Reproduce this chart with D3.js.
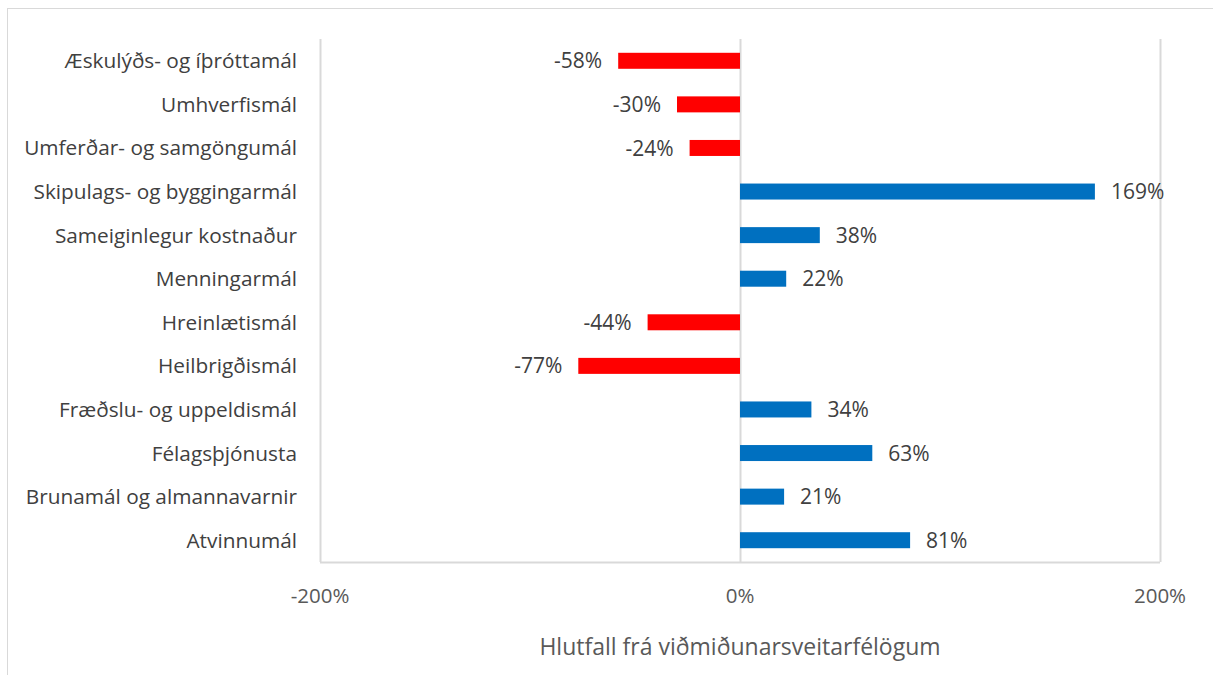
<!DOCTYPE html>
<html>
<head>
<meta charset="utf-8">
<script src="https://cdn.jsdelivr.net/npm/d3@7"></script>
<style>
  body { margin: 0; background: #fff; }
  text { font-family: "Open Sans", "Noto Sans", sans-serif; fill: #404040; }
</style>
</head>
<body>
<div id="chart"></div>
<script>
// data, top to bottom
var categories = [
  "Æskulýðs- og íþróttamál",
  "Umhverfismál",
  "Umferðar- og samgöngumál",
  "Skipulags- og byggingarmál",
  "Sameiginlegur kostnaður",
  "Menningarmál",
  "Hreinlætismál",
  "Heilbrigðismál",
  "Fræðslu- og uppeldismál",
  "Félagsþjónusta",
  "Brunamál og almannavarnir",
  "Atvinnumál"
];
var values = [-58, -30, -24, 169, 38, 22, -44, -77, 34, 63, 21, 81];
var xTicks = [-200, 0, 200];
var axisTitle = "Hlutfall frá viðmiðunarsveitarfélögum";

var svgWidth = 1213;
var svgHeight = 675;
var margin = { top: 39, right: 53, bottom: 113, left: 320 };
var width = svgWidth - margin.left - margin.right;
var height = svgHeight - margin.top - margin.bottom;

var svg = d3.select("#chart").append("svg")
  .attr("width", svgWidth)
  .attr("height", svgHeight);

// outer frame
svg.append("rect")
  .attr("x", 7.5).attr("y", 8.5)
  .attr("width", 1220).attr("height", 700)
  .attr("fill", "none")
  .attr("stroke", "#d9d9d9");

var chartGroup = svg.append("g")
  .attr("transform", `translate(${margin.left}, ${margin.top})`);

var xScale = d3.scaleLinear().domain([-200, 200]).range([0, width]);
var yScale = d3.scaleBand().domain(categories).range([0, height]).paddingInner(0.633).paddingOuter(0.3165);

// gridlines
chartGroup.selectAll(".grid")
  .data(xTicks)
  .enter()
  .append("line")
  .attr("x1", d => Math.round(xScale(d)) + 0.5)
  .attr("x2", d => Math.round(xScale(d)) + 0.5)
  .attr("y1", 0)
  .attr("y2", height)
  .attr("stroke", "#d9d9d9")
  .attr("stroke-width", 2);

// bottom line
chartGroup.append("line")
  .attr("x1", 0).attr("x2", width)
  .attr("y1", height + 0.5).attr("y2", height + 0.5)
  .attr("stroke", "#d9d9d9")
  .attr("stroke-width", 2);

// bars
chartGroup.selectAll(".bar")
  .data(values)
  .enter()
  .append("rect")
  .attr("x", d => xScale(Math.min(0, d)))
  .attr("y", (d, i) => yScale(categories[i]))
  .attr("width", d => Math.abs(xScale(d) - xScale(0)))
  .attr("height", yScale.bandwidth())
  .attr("fill", d => d < 0 ? "#ff0000" : "#0070c0");

// value labels
chartGroup.selectAll(".val")
  .data(values)
  .enter()
  .append("text")
  .attr("x", d => d < 0 ? xScale(d) - 16 : xScale(d) + 16)
  .attr("y", (d, i) => yScale(categories[i]) + yScale.bandwidth() / 2)
  .attr("dy", "0.36em")
  .attr("text-anchor", d => d < 0 ? "end" : "start")
  .style("font-size", "21px")
  .text(d => d + "%");

// category labels
chartGroup.selectAll(".cat")
  .data(categories)
  .enter()
  .append("text")
  .attr("x", -23)
  .attr("y", d => yScale(d) + yScale.bandwidth() / 2)
  .attr("dy", "0.36em")
  .attr("text-anchor", "end")
  .style("font-size", "20.8px")
  .text(d => d);

// x tick labels
chartGroup.selectAll(".tick-label")
  .data(xTicks)
  .enter()
  .append("text")
  .attr("x", d => xScale(d))
  .attr("y", height + 34)
  .attr("dy", "0.36em")
  .attr("text-anchor", "middle")
  .style("font-size", "20.5px")
  .style("fill", "#595959")
  .text(d => d + "%");

// axis title
chartGroup.append("text")
  .attr("x", xScale(0))
  .attr("y", height + 85)
  .attr("dy", "0.36em")
  .attr("text-anchor", "middle")
  .style("font-size", "23px")
  .style("fill", "#595959")
  .text(axisTitle);
</script>
</body>
</html>
